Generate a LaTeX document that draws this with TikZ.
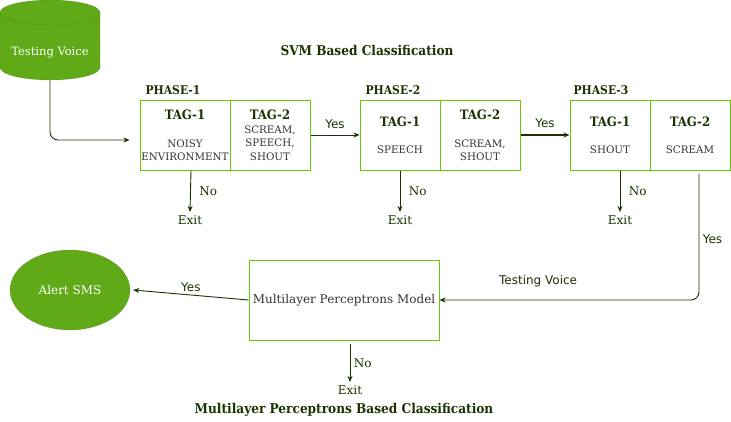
\documentclass[tikz,border=0pt]{standalone}
\usepackage{fontspec}
\setmainfont{DejaVu Serif}
\newfontfamily\labelfont{DejaVu Sans}
\newfontfamily\condfont{DejaVu Serif Condensed}
\usetikzlibrary{positioning, arrows.meta, shapes.geometric}
\definecolor{leaf}{HTML}{60A917}
\definecolor{rim}{HTML}{66CC00}
\definecolor{ink}{HTML}{1A3300}
\definecolor{txt}{HTML}{333333}

\begin{document}
\begin{tikzpicture}[x=1pt, y=-1pt,
        cell/.style={rectangle, draw=rim, line width=1pt, minimum width=80pt, minimum height=70pt, inner sep=0pt},
        blob/.style={fill=leaf, draw=ink!80, densely dotted, text=white, font=\fontsize{11.5}{13}\selectfont},
        head/.style={text=ink, font=\fontsize{13.5}{15}\selectfont\condfont\bfseries},
        phase/.style={text=ink, font=\fontsize{12}{14}\selectfont\condfont\bfseries},
        tag/.style={text=ink, font=\fontsize{13}{15}\selectfont\condfont\bfseries},
        item/.style={text=txt, align=center, font=\fontsize{10.3}{13.5}\selectfont},
        word/.style={text=ink, font=\fontsize{12}{14}\selectfont},
        sword/.style={text=ink, font=\fontsize{12}{14}\selectfont\labelfont},
        flow/.style={draw=ink, line width=0.9pt, -{Stealth[length=6pt, width=5pt]}}
    ]
    \useasboundingbox (0,0) rectangle (731,421);

    % input and output
    \draw[blob] (0,12.5) -- (0,67.5) arc[start angle=180, end angle=360, x radius=50pt, y radius=12.5pt]
        -- (100,12.5) arc[start angle=0, end angle=180, x radius=50pt, y radius=12.5pt] -- cycle;
    \draw[ink!80, densely dotted] (100,12.5) arc[start angle=0, end angle=-180, x radius=50pt, y radius=12.5pt];
    \coordinate (voice) at (50,80);
    \node[blob, draw=none, fill=none] (voicetxt) at (50,53) {Testing Voice};
    \node[blob, ellipse, minimum width=120pt, minimum height=80pt, font=\fontsize{12}{14}\selectfont] (sms) at (70,290) {Alert SMS};

    % titles
    \node[head] (svm) at (367,50) {SVM Based Classification};
    \node[head] (mlpt) at (344,410) {Multilayer Perceptrons Based Classification};

    % phase boxes
    \node[phase, anchor=west] (ph1) at (142,90) {PHASE-1};
    \node[phase, anchor=west] (ph2) at (362,90) {PHASE-2};
    \node[phase, anchor=west] (ph3) at (570,90) {PHASE-3};
    \node[cell, minimum width=90pt] (p1a) at (185,135) {};
    \node[cell] (p1b) at (270,135) {};
    \node[cell] (p2a) at (400,135) {};
    \node[cell] (p2b) at (480,135) {};
    \node[cell] (p3a) at (610,135) {};
    \node[cell] (p3b) at (690,135) {};

    \node[tag] (t1a) at (185,115) {TAG-1};
    \node[item] (s1a) at (185,150) {NOISY\\ENVIRONMENT};
    \node[tag] (t1b) at (270,115) {TAG-2};
    \node[item] (s1b) at (270,143) {SCREAM,\\SPEECH,\\SHOUT};
    \node[tag] (t2a) at (400,122) {TAG-1};
    \node[item] (s2a) at (400,150) {SPEECH};
    \node[tag] (t2b) at (480,115) {TAG-2};
    \node[item] (s2b) at (480,150) {SCREAM,\\SHOUT};
    \node[tag] (t3a) at (610,122) {TAG-1};
    \node[item] (s3a) at (610,150) {SHOUT};
    \node[tag] (t3b) at (690,122) {TAG-2};
    \node[item] (s3b) at (690,150) {SCREAM};

    % perceptron box
    \node[cell, minimum width=190pt, minimum height=80pt, text=txt, font=\fontsize{12}{14}\selectfont] (mlp) at (344,300) {Multilayer Perceptrons Model};

    % exits
    \node[word] (x1) at (190,220) {Exit};
    \node[word] (x2) at (400,220) {Exit};
    \node[word] (x3) at (620,220) {Exit};
    \node[word] (x4) at (350,390) {Exit};

    % connectors
    \draw[flow, rounded corners=8pt] (voice) |- ([shift={(-10pt,-5pt)}]p1a.west);
    \draw[flow] (p1b.east) -- (p2a.west) node[midway, above=3pt, sword] {Yes};
    \draw[flow, line width=1.6pt] (p2b.east) -- (p3a.west) node[midway, above=3pt, sword] {Yes};
    \draw[flow] ([xshift=6pt]p1a.south) -- (x1.north) node[midway, right=5pt, word] {No};
    \draw[flow] (p2a.south) -- (x2.north) node[midway, right=5pt, word] {No};
    \draw[flow] ([xshift=10pt]p3a.south) -- (x3.north) node[midway, right=5pt, word] {No};
    \draw[flow, rounded corners=8pt] ([xshift=9pt, yshift=-3pt]p3b.south) |- (mlp.east)
        node[pos=0.26, right, sword] {Yes}
        node[pos=0.81, above=9pt, sword] {Testing Voice};
    \draw[flow] (mlp.west) -- ([xshift=3pt]sms.east) node[midway, above, sword] {Yes};
    \draw[flow] ([shift={(6pt,-3pt)}]mlp.south) -- (x4.north) node[midway, right, word] {No};
\end{tikzpicture}
\end{document}
